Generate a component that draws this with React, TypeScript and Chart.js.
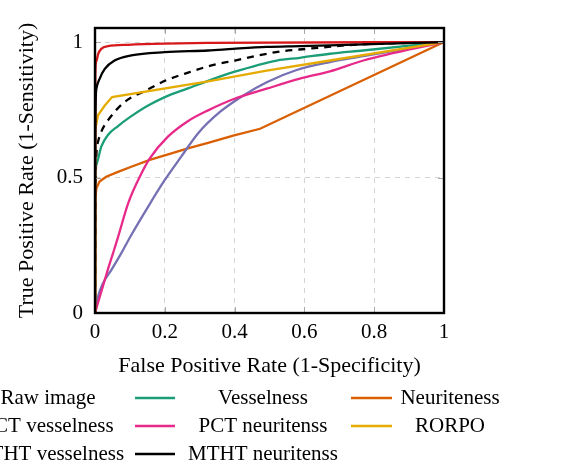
import React, { useEffect, useRef } from "react";
import { Chart, registerables } from "chart.js";

Chart.register(...registerables);

// ---- data ----
const seriesNames = [
  "Raw image",
  "Vesselness",
  "Neuriteness",
  "PCT vesselness",
  "PCT neuritenss",
  "RORPO",
  "MTHT vesselness",
  "MTHT neuritenss",
];

const rawFpr = [0, 0.002, 0.0086, 0.02, 0.037, 0.085, 0.147, 0.204, 0.271, 0.334, 0.401, 0.468, 0.535, 0.607, 0.668, 0.739, 1];
const rawTpr = [0, 0.5, 0.632, 0.675, 0.711, 0.779, 0.822, 0.859, 0.889, 0.914, 0.932, 0.951, 0.966, 0.975, 0.982, 0.99, 1];

const vesFpr = [0, 0.0005, 0.003, 0.018, 0.037, 0.066, 0.099, 0.147, 0.2, 0.266, 0.324, 0.396, 0.521, 0.587, 0.673, 0.768, 1];
const vesTpr = [0, 0.498, 0.546, 0.614, 0.657, 0.69, 0.722, 0.762, 0.797, 0.829, 0.857, 0.889, 0.932, 0.942, 0.957, 0.969, 1];

const neuFpr = [0, 0.0005, 0.004, 0.013, 0.032, 0.066, 0.104, 0.157, 0.219, 0.266, 0.324, 0.396, 0.473, 1];
const neuTpr = [0, 0.417, 0.46, 0.485, 0.503, 0.521, 0.54, 0.565, 0.589, 0.608, 0.628, 0.655, 0.68, 1];

const pctVesFpr = [0, 0.0086, 0.023, 0.047, 0.075, 0.104, 0.152, 0.2, 0.247, 0.295, 0.358, 0.425, 0.492, 0.578, 0.673, 0.769, 1];
const pctVesTpr = [0, 0.06, 0.11, 0.159, 0.22, 0.288, 0.392, 0.491, 0.577, 0.663, 0.742, 0.803, 0.852, 0.897, 0.926, 0.948, 1];

const pctNeuFpr = [0, 0.0086, 0.023, 0.037, 0.052, 0.066, 0.095, 0.133, 0.157, 0.209, 0.266, 0.324, 0.396, 0.492, 0.587, 0.673, 0.769, 1];
const pctNeuTpr = [0, 0.038, 0.1, 0.161, 0.222, 0.28, 0.405, 0.515, 0.571, 0.651, 0.708, 0.748, 0.789, 0.828, 0.865, 0.892, 0.932, 1];

const rorpoFpr = [0, 0.0005, 0.0086, 0.028, 0.049, 0.324, 0.492, 0.673, 1];
const rorpoTpr = [0, 0.675, 0.73, 0.766, 0.797, 0.855, 0.895, 0.932, 1];

const mthtVesFpr = [0, 0.001, 0.004, 0.009, 0.018, 0.037, 0.095, 0.2, 0.324, 1];
const mthtVesTpr = [0, 0.88, 0.93, 0.956, 0.975, 0.985, 0.99, 0.994, 0.997, 1];

const mthtNeuFpr = [0, 0.001, 0.004, 0.0135, 0.028, 0.056, 0.104, 0.2, 0.324, 0.395, 0.492, 0.587, 0.673, 1];
const mthtNeuTpr = [0, 0.7, 0.828, 0.865, 0.901, 0.932, 0.951, 0.963, 0.969, 0.975, 0.982, 0.985, 0.988, 1];

const xTickValues = [0, 0.2, 0.4, 0.6, 0.8, 1];
const yTickValues = [0, 0.5, 1];

const xTitle = "False Positive Rate (1-Specificity)";
const yTitle = "True Positive Rate (1-Sensitivity)";

// ---- styles ----
const colors = ["#000000", "#1b9e77", "#d95f02", "#7570b3", "#e7298a", "#e6ab02", "#d7191c", "#000000"];
const dashes: number[][] = [[7, 6], [], [], [], [], [], [], []];
const smooth = [true, true, false, true, true, false, true, true];
const FONT = "'Liberation Serif', 'Times New Roman', serif";

const seriesX = [rawFpr, vesFpr, neuFpr, pctVesFpr, pctNeuFpr, rorpoFpr, mthtVesFpr, mthtNeuFpr];
const seriesY = [rawTpr, vesTpr, neuTpr, pctVesTpr, pctNeuTpr, rorpoTpr, mthtVesTpr, mthtNeuTpr];

const decorPlugin = {
  id: "decor",
  afterDraw(chart: any) {
    const { ctx, chartArea } = chart;
    const { left, right, top, bottom } = chartArea;
    const xs = chart.scales.x;
    const ys = chart.scales.y;
    ctx.save();
    // tick marks (inside)
    ctx.strokeStyle = "#a8a8a8";
    ctx.lineWidth = 1;
    ctx.setLineDash([]);
    xTickValues.forEach((v) => {
      if (v === 0 || v === 1) return;
      const px = Math.round(xs.getPixelForValue(v)) + 0.5;
      ctx.beginPath();
      ctx.moveTo(px, bottom);
      ctx.lineTo(px, bottom - 6);
      ctx.moveTo(px, top);
      ctx.lineTo(px, top + 6);
      ctx.stroke();
    });
    yTickValues.forEach((v) => {
      if (v === 0) return;
      const py = Math.round(ys.getPixelForValue(v)) + 0.5;
      ctx.beginPath();
      ctx.moveTo(left, py);
      ctx.lineTo(left + 6, py);
      ctx.moveTo(right, py);
      ctx.lineTo(right - 6, py);
      ctx.stroke();
    });
    // border
    ctx.strokeStyle = "#000";
    ctx.lineWidth = 2.4;
    ctx.strokeRect(left, top, right - left, bottom - top);

    // axis titles
    ctx.fillStyle = "#000";
    ctx.font = `22px ${FONT}`;
    ctx.textAlign = "center";
    ctx.textBaseline = "middle";
    ctx.fillText(xTitle, (left + right) / 2, 366);
    ctx.save();
    ctx.translate(27, (top + bottom) / 2);
    ctx.rotate(-Math.PI / 2);
    ctx.fillText(yTitle, 0, 0);
    ctx.restore();

    // legend (3 columns)
    const colText = [48, 263, 450];
    const colLine = [[-80, -40], [135, 175], [351, 392]];
    const rowY = [398, 426, 454];
    ctx.font = `21px ${FONT}`;
    seriesNames.forEach((name, i) => {
      const r = Math.floor(i / 3);
      const c = i % 3;
      const y = rowY[r];
      ctx.strokeStyle = colors[i];
      ctx.lineWidth = 2.4;
      ctx.setLineDash(dashes[i]);
      ctx.beginPath();
      ctx.moveTo(colLine[c][0], y);
      ctx.lineTo(colLine[c][1], y);
      ctx.stroke();
      ctx.setLineDash([]);
      ctx.fillStyle = "#000";
      ctx.fillText(name, colText[c], y);
    });
    ctx.restore();
  },
};

export default function App() {
  const ref = useRef<HTMLCanvasElement | null>(null);
  useEffect(() => {
    if (!ref.current) return;
    const datasets = seriesNames.map((name, i) => ({
      label: name,
      data: seriesX[i].map((x, k) => ({ x, y: seriesY[i][k] })),
      borderColor: colors[i],
      borderWidth: 2.3,
      borderDash: dashes[i],
      pointRadius: 0,
      tension: 0,
      cubicInterpolationMode: smooth[i] ? "monotone" : "default",
      fill: false,
      order: seriesNames.length - i,
    }));
    const gridColor = "#d4d4d4";
    const chart = new Chart(ref.current, {
      type: "line",
      data: { datasets } as any,
      plugins: [decorPlugin],
      options: {
        animation: false,
        responsive: true,
        maintainAspectRatio: false,
        layout: { padding: { left: 0, top: 28, right: 127, bottom: 112 } },
        plugins: { legend: { display: false }, tooltip: { enabled: false } },
        scales: {
          x: {
            type: "linear",
            min: 0,
            max: 1,
            afterBuildTicks: (s: any) => {
              s.ticks = xTickValues.map((v) => ({ value: v }));
            },
            afterFit: (s: any) => {
              s.height = 40;
            },
            ticks: {
              padding: 7,
              color: "#000",
              font: { family: FONT, size: 21 },
              callback: (v: any) => (v === 0 ? "0" : v === 1 ? "1" : Number(v).toFixed(1)),
            },
            grid: {
              drawTicks: false,
              lineWidth: 1,
              color: (c: any) => (c.tick && (c.tick.value === 0 || c.tick.value === 1) ? "rgba(0,0,0,0)" : gridColor),
            },
            border: { display: false, dash: [5, 5] },
          },
          y: {
            type: "linear",
            min: 0,
            max: 1.052,
            afterBuildTicks: (s: any) => {
              s.ticks = yTickValues.map((v) => ({ value: v }));
            },
            afterFit: (s: any) => {
              s.width = 95;
            },
            ticks: {
              padding: 12,
              color: "#000",
              font: { family: FONT, size: 21 },
              callback: (v: any) => String(v),
            },
            grid: {
              drawTicks: false,
              lineWidth: 1,
              color: (c: any) => (c.tick && c.tick.value === 0 ? "rgba(0,0,0,0)" : gridColor),
            },
            border: { display: false, dash: [5, 5] },
          },
        },
      },
    });
    return () => chart.destroy();
  }, []);
  return (
    <div style={{ position: "fixed", left: 0, top: 0, width: 571, height: 465, background: "#fff" }}>
      <canvas ref={ref} />
    </div>
  );
}
